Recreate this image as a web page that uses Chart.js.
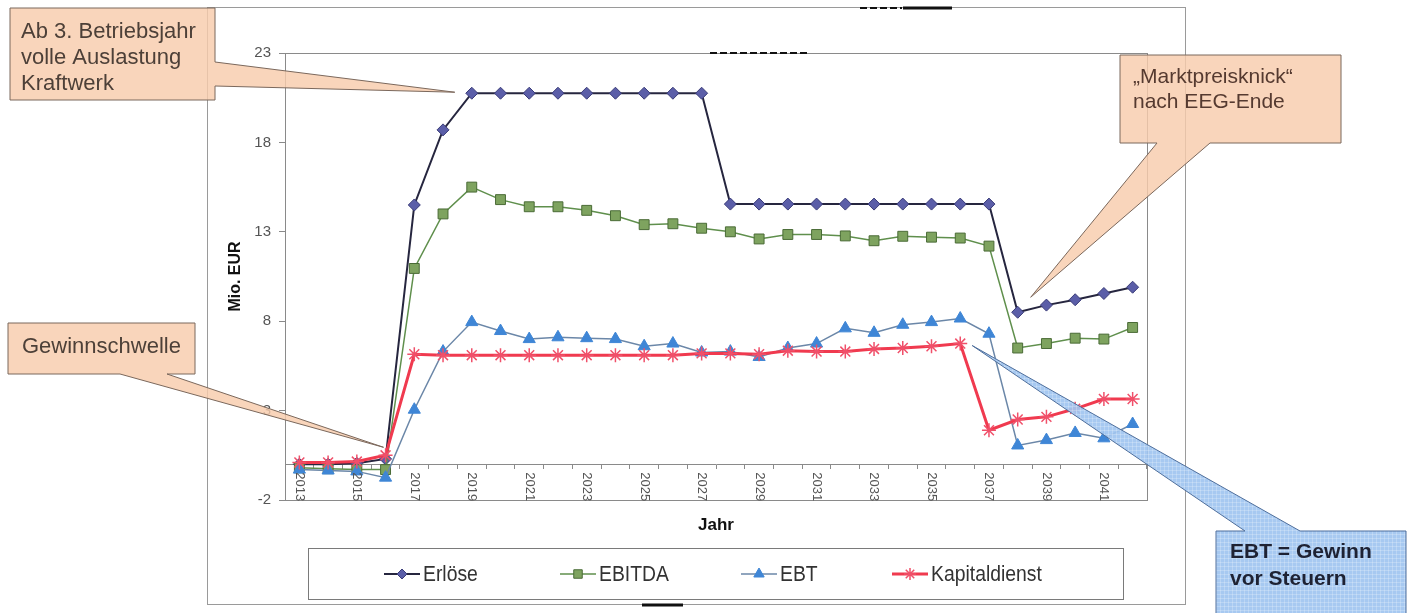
<!DOCTYPE html>
<html>
<head>
<meta charset="utf-8">
<script src="https://cdn.jsdelivr.net/npm/chart.js@4.4.1/dist/chart.umd.min.js"></script>
<style>
  html, body { margin: 0; padding: 0; background: #ffffff; }
  #wrap { position: relative; width: 1413px; height: 613px; }
  canvas { display: block; }
</style>
</head>
<body>
<div id="wrap"><canvas id="c" width="1413" height="613"></canvas></div>
<script>
// Jahre der Wirtschaftlichkeitsrechnung
const years = ['2013','2014','2015','2016','2017','2018','2019','2020','2021','2022',
               '2023','2024','2025','2026','2027','2028','2029','2030','2031','2032',
               '2033','2034','2035','2036','2037','2038','2039','2040','2041','2042'];

// Werte in Mio. EUR
const erloese = [0.0, 0.0, 0.05, 0.3, 14.5, 18.7, 20.75, 20.75, 20.75, 20.75,
                 20.75, 20.75, 20.75, 20.75, 20.75, 14.55, 14.55, 14.55, 14.55, 14.55,
                 14.55, 14.55, 14.55, 14.55, 14.55, 8.5, 8.9, 9.2, 9.55, 9.9];
const ebitda = [-0.2, -0.25, -0.3, -0.3, 10.95, 14.0, 15.5, 14.8, 14.4, 14.4,
                14.2, 13.9, 13.4, 13.45, 13.2, 13.0, 12.6, 12.85, 12.85, 12.77,
                12.5, 12.75, 12.7, 12.65, 12.2, 6.5, 6.75, 7.05, 7.0, 7.65];
const ebt = [-0.3, -0.35, -0.4, -0.75, 3.05, 6.3, 7.95, 7.45, 7.0, 7.1,
             7.05, 7.0, 6.6, 6.75, 6.25, 6.3, 6.0, 6.5, 6.75, 7.6,
             7.35, 7.8, 7.95, 8.15, 7.3, 1.05, 1.35, 1.75, 1.45, 2.25];
const kapitaldienst = [0.1, 0.1, 0.15, 0.5, 6.15, 6.1, 6.1, 6.1, 6.1, 6.1,
                       6.1, 6.1, 6.1, 6.1, 6.2, 6.2, 6.15, 6.35, 6.3, 6.3,
                       6.45, 6.5, 6.6, 6.75, 1.9, 2.5, 2.65, 3.1, 3.65, 3.65];

const yTicks = [-2, 3, 8, 13, 18, 23];
const seriesNames = ['Erlöse', 'EBITDA', 'EBT', 'Kapitaldienst'];

const FONT = '"Liberation Sans", Arial, Helvetica, sans-serif';
const AXIS_GRAY = '#8a8a8a';
// linker Rand der Legendeneinträge
const legendItemX = [384, 560, 741, 892];

// Markierungen für die Legende
function drawMarker(ctx, style, x, y, r, fill, stroke, lw) {
  ctx.save();
  ctx.beginPath();
  if (style === 'rectRot') {
    ctx.moveTo(x, y - r); ctx.lineTo(x + r, y); ctx.lineTo(x, y + r); ctx.lineTo(x - r, y);
    ctx.closePath();
  } else if (style === 'rect') {
    const s = r * Math.SQRT1_2;
    ctx.rect(x - s, y - s, 2 * s, 2 * s);
  } else if (style === 'triangle') {
    ctx.moveTo(x, y - r);
    ctx.lineTo(x + r * 0.866, y + r * 0.5);
    ctx.lineTo(x - r * 0.866, y + r * 0.5);
    ctx.closePath();
  } else if (style === 'star') {
    for (let k = 0; k < 4; k++) {
      const a = k * Math.PI / 4;
      ctx.moveTo(x - Math.sin(a) * r, y - Math.cos(a) * r);
      ctx.lineTo(x + Math.sin(a) * r, y + Math.cos(a) * r);
    }
  }
  if (style !== 'star') { ctx.fillStyle = fill; ctx.fill(); }
  ctx.lineWidth = lw; ctx.strokeStyle = stroke; ctx.stroke();
  ctx.restore();
}

// Sprechblase: Rechteck mit Zeiger
function calloutPath(ctx, pts) {
  ctx.beginPath();
  ctx.moveTo(pts[0][0], pts[0][1]);
  for (let i = 1; i < pts.length; i++) ctx.lineTo(pts[i][0], pts[i][1]);
  ctx.closePath();
}

const chartDecor = {
  id: 'chartDecor',
  beforeDraw(chart) {
    const ctx = chart.ctx;
    ctx.save();
    ctx.fillStyle = '#ffffff';
    ctx.fillRect(0, 0, chart.width, chart.height);
    // Rahmen des Diagrammbereichs
    ctx.strokeStyle = '#9a9a9a';
    ctx.lineWidth = 1;
    ctx.strokeRect(207.5, 7.5, 978, 597);
    // Zeichenfläche
    const a = chart.chartArea;
    ctx.strokeStyle = AXIS_GRAY;
    ctx.strokeRect(Math.round(a.left) + 0.5, Math.round(a.top) + 0.5,
                   Math.round(a.right - a.left), Math.round(a.bottom - a.top));
    ctx.restore();
  },
  afterDraw(chart) {
    const ctx = chart.ctx;
    const xs = chart.scales.x, ys = chart.scales.y;
    const zeroY = ys.getPixelForValue(0);

    // Jahresbeschriftung, senkrecht
    ctx.save();
    ctx.fillStyle = '#555555';
    ctx.font = '13px ' + FONT;
    ctx.textAlign = 'left';
    ctx.textBaseline = 'middle';
    years.forEach((yr, i) => {
      if (i % 2 !== 0) return;
      const px = xs.getPixelForValue(i);
      ctx.save();
      ctx.translate(px, zeroY + 8);
      ctx.rotate(Math.PI / 2);
      ctx.fillText(yr, 0, 0);
      ctx.restore();
    });
    ctx.restore();

    // Achsentitel x
    ctx.save();
    ctx.fillStyle = '#111111';
    ctx.font = 'bold 17px ' + FONT;
    ctx.textAlign = 'center';
    ctx.textBaseline = 'middle';
    ctx.fillText('Jahr', (chart.chartArea.left + chart.chartArea.right) / 2, 525);
    ctx.restore();

    // Legende (schmale Schrift durch horizontale Stauchung)
    ctx.save();
    ctx.strokeStyle = '#7a7a7a';
    ctx.lineWidth = 1;
    ctx.strokeRect(308.5, 548.5, 815, 51);
    ctx.font = '22px ' + FONT;
    ctx.textBaseline = 'middle';
    ctx.textAlign = 'left';
    const squeeze = 0.88;
    const ly = 574;
    chart.data.datasets.forEach((ds, k) => {
      const lx = legendItemX[k];
      ctx.beginPath();
      ctx.moveTo(lx, ly); ctx.lineTo(lx + 36, ly);
      ctx.strokeStyle = ds.borderColor;
      ctx.lineWidth = ds.borderWidth;
      ctx.stroke();
      drawMarker(ctx, ds.pointStyle, lx + 18, ly, ds.pointRadius - 1,
                 ds.pointBackgroundColor, ds.pointBorderColor, ds.pointBorderWidth);
      ctx.save();
      ctx.translate(lx + 39, ly + 1);
      ctx.scale(squeeze, 1);
      ctx.fillStyle = '#333333';
      ctx.fillText(ds.label, 0, 0);
      ctx.restore();
    });
    ctx.restore();

    // Sprechblasen
    const pt = (arr, yr) => {
      const i = years.indexOf(yr);
      return [xs.getPixelForValue(i), ys.getPixelForValue(arr[i])];
    };
    const peachFill = 'rgba(248, 204, 172, 0.82)';
    const peachLine = '#7b685c';
    const textCol = '#4d4038';

    ctx.save();
    ctx.lineWidth = 1;

    // Volle Auslastung
    let t = pt(erloese, '2019');
    calloutPath(ctx, [[10, 8], [215, 8], [215, 62], [t[0] - 17, t[1] - 1], [215, 86], [215, 100], [10, 100]]);
    ctx.fillStyle = peachFill; ctx.fill();
    ctx.strokeStyle = peachLine; ctx.stroke();
    ctx.fillStyle = textCol;
    ctx.font = '22px ' + FONT;
    ctx.textAlign = 'left'; ctx.textBaseline = 'alphabetic';
    ctx.fillText('Ab 3. Betriebsjahr', 21, 38);
    ctx.fillText('volle Auslastung', 21, 64);
    ctx.fillText('Kraftwerk', 21, 90);

    // Gewinnschwelle
    t = pt(kapitaldienst, '2016');
    calloutPath(ctx, [[8, 323], [195, 323], [195, 374], [167, 374], [t[0] - 2, t[1] - 8], [120, 374], [8, 374]]);
    ctx.fillStyle = peachFill; ctx.fill();
    ctx.strokeStyle = peachLine; ctx.stroke();
    ctx.fillStyle = textCol;
    ctx.fillText('Gewinnschwelle', 22, 353);

    // Marktpreisknick
    t = pt(erloese, '2038');
    calloutPath(ctx, [[1120, 55], [1341, 55], [1341, 143], [1210, 143], [t[0] + 13, t[1] - 15], [1157, 143], [1120, 143]]);
    ctx.fillStyle = peachFill; ctx.fill();
    ctx.strokeStyle = peachLine; ctx.stroke();
    ctx.fillStyle = '#553a30';
    ctx.font = '21px ' + FONT;
    ctx.fillText('\u201EMarktpreisknick\u201C', 1133, 83);
    ctx.fillText('nach EEG-Ende', 1133, 108);

    // EBT-Erläuterung
    t = pt(kapitaldienst, '2036');
    const ebtShape = [[1216, 531], [1245, 531], [t[0] + 12, t[1] + 2], [1300, 531], [1406, 531], [1406, 630], [1216, 630]];
    calloutPath(ctx, ebtShape);
    ctx.fillStyle = 'rgba(160, 196, 240, 0.92)'; ctx.fill();
    ctx.save();
    ctx.clip();
    ctx.strokeStyle = 'rgba(255, 255, 255, 0.22)';
    ctx.lineWidth = 1;
    for (let gx = 900; gx < 1413; gx += 4) { ctx.beginPath(); ctx.moveTo(gx + 0.5, 330); ctx.lineTo(gx + 0.5, 613); ctx.stroke(); }
    for (let gy = 330; gy < 613; gy += 4) { ctx.beginPath(); ctx.moveTo(900, gy + 0.5); ctx.lineTo(1413, gy + 0.5); ctx.stroke(); }
    ctx.restore();
    calloutPath(ctx, ebtShape);
    ctx.strokeStyle = '#4f6f9c'; ctx.lineWidth = 1; ctx.stroke();
    ctx.fillStyle = '#1e2233';
    ctx.font = 'bold 21px ' + FONT;
    ctx.fillText('EBT = Gewinn', 1230, 558);
    ctx.fillText('vor Steuern', 1230, 585);
    ctx.restore();

    // Scan-Spuren am Rand
    ctx.save();
    ctx.strokeStyle = '#111111';
    ctx.lineWidth = 3;
    ctx.beginPath(); ctx.moveTo(903, 8); ctx.lineTo(952, 8); ctx.stroke();
    ctx.lineWidth = 2;
    ctx.setLineDash([7, 3]);
    ctx.beginPath(); ctx.moveTo(860, 8); ctx.lineTo(902, 8); ctx.stroke();
    ctx.beginPath(); ctx.moveTo(710, 53); ctx.lineTo(808, 53); ctx.stroke();
    ctx.setLineDash([]);
    ctx.lineWidth = 3;
    ctx.beginPath(); ctx.moveTo(642, 605); ctx.lineTo(683, 605); ctx.stroke();
    ctx.restore();
  }
};

new Chart(document.getElementById('c'), {
  type: 'line',
  data: {
    labels: years,
    datasets: [
      {
        label: seriesNames[0], data: erloese, order: 3,
        borderColor: '#26263f', borderWidth: 2,
        pointStyle: 'rectRot', pointRadius: 6,
        pointBackgroundColor: '#5b5ea8', pointBorderColor: '#3a3c78', pointBorderWidth: 1
      },
      {
        label: seriesNames[1], data: ebitda, order: 2,
        borderColor: '#5f8f4c', borderWidth: 1.5,
        pointStyle: 'rect', pointRadius: 7,
        pointBackgroundColor: '#7ea35f', pointBorderColor: '#4a6b36', pointBorderWidth: 1
      },
      {
        label: seriesNames[2], data: ebt, order: 1,
        borderColor: '#6b87a8', borderWidth: 1.5,
        pointStyle: 'triangle', pointRadius: 7,
        pointBackgroundColor: '#3f86d6', pointBorderColor: '#3f86d6', pointBorderWidth: 1
      },
      {
        label: seriesNames[3], data: kapitaldienst, order: 0,
        borderColor: '#f03a4f', borderWidth: 3,
        pointStyle: 'star', pointRadius: 7,
        pointBackgroundColor: 'rgba(0,0,0,0)', pointBorderColor: '#f0506a', pointBorderWidth: 1.5
      }
    ]
  },
  options: {
    responsive: false,
    animation: false,
    devicePixelRatio: 1,
    layout: { padding: { left: 226, right: 266, top: 53, bottom: 113 } },
    plugins: { legend: { display: false }, tooltip: { enabled: false } },
    elements: { line: { tension: 0, fill: false } },
    scales: {
      x: {
        type: 'category',
        offset: true,
        position: { y: 0 },
        grid: { offset: true, drawOnChartArea: false, drawTicks: true, tickLength: 4, color: AXIS_GRAY },
        border: { display: true, color: AXIS_GRAY, width: 1 },
        ticks: { display: false }
      },
      y: {
        min: -2, max: 23,
        afterBuildTicks: (s) => { s.ticks = yTicks.map(v => ({ value: v })); },
        afterFit: (s) => { s.width = 59; },
        grid: { drawOnChartArea: false, drawTicks: true, tickLength: 6, color: AXIS_GRAY },
        border: { display: true, color: AXIS_GRAY, width: 1 },
        ticks: { color: '#555555', font: { family: FONT, size: 15 }, padding: 8 },
        title: {
          display: true, text: 'Mio. EUR', color: '#111111',
          font: { family: FONT, size: 16, weight: 'bold' },
          padding: { top: 0, bottom: 0 }
        }
      }
    }
  },
  plugins: [chartDecor]
});
</script>
</body>
</html>
